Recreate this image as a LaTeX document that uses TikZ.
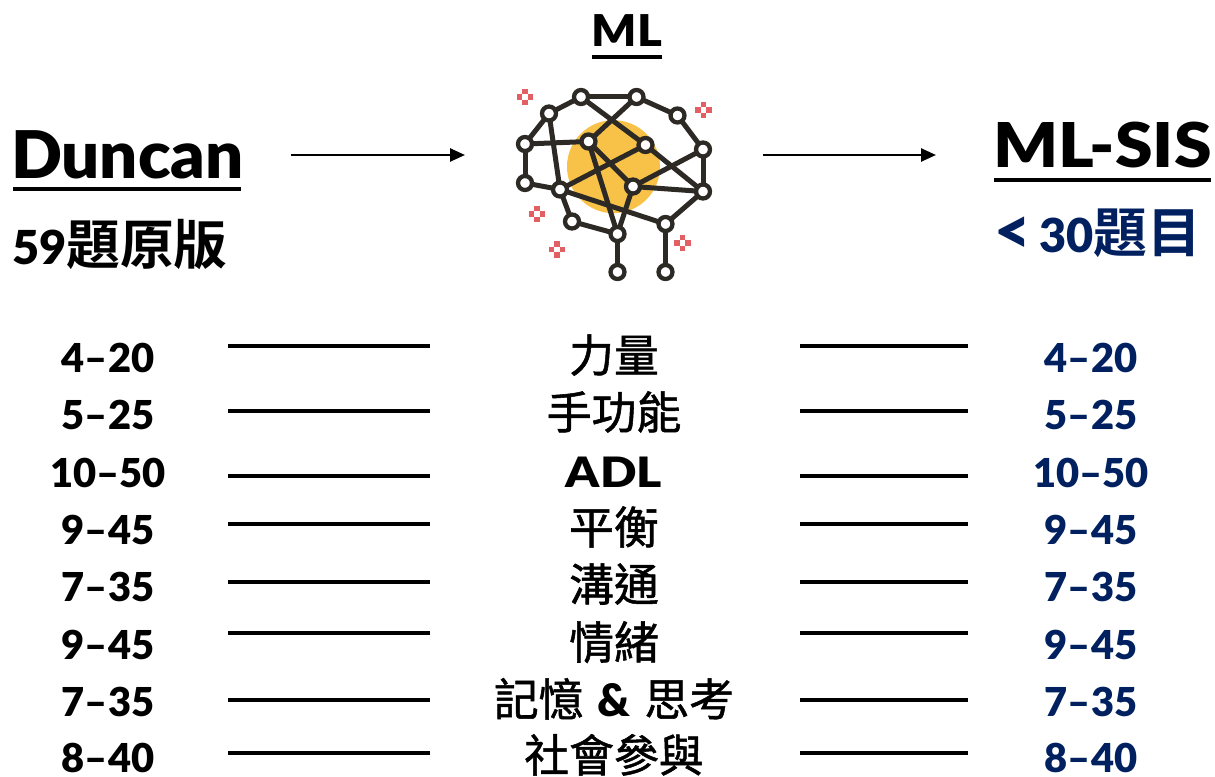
\documentclass[tikz,border=0pt]{standalone}
\usepackage{fontspec}
\setmainfont{Lato}[BoldFont={Lato Black}]
\newfontfamily\cjk{Noto Sans CJK TC}[BoldFont={Noto Sans CJK TC Bold}]
\newfontfamily\cjkm{Noto Sans CJK TC}[FakeBold=1.2]
\usetikzlibrary{arrows.meta}
\definecolor{navy}{RGB}{0,32,96}
\definecolor{ink}{RGB}{45,42,38}
\definecolor{gold}{RGB}{248,194,72}
\definecolor{spark}{RGB}{226,96,100}

\tikzset{
  sparkle/.pic={
    \fill[spark] (-2.7,-8.1) rectangle (2.7,-2.7);
    \fill[spark] (-2.7,2.7) rectangle (2.7,8.1);
    \fill[spark] (-8.1,-2.7) rectangle (-2.7,2.7);
    \fill[spark] (2.7,-2.7) rectangle (8.1,2.7);
  }
}

\begin{document}
\begin{tikzpicture}[x=1bp,y=-1bp,
  every node/.style={inner sep=0pt, outer sep=0pt},
  num/.style={anchor=base, text depth=0pt, font=\fontsize{40}{40}\selectfont\bfseries},
  numr/.style={num, text=navy},
  lab/.style={anchor=base, text depth=0pt, font=\fontsize{45}{45}\selectfont\cjkm},
  rule/.style={line width=4bp},
  uline/.style={line width=3.5bp},
  flow/.style={line width=2.5bp, -{Triangle[length=15bp,width=13bp]}},
  edge/.style={draw=ink, line width=5bp, line cap=round},
  joint/.style={circle, draw=ink, fill=white, line width=4.3bp, minimum size=14bp},
]
\useasboundingbox (0,0) rectangle (1215,777);

% ---------- headings ----------
\node[anchor=base, font=\fontsize{44}{44}\selectfont\bfseries] (ml) at (627,47) {\scalebox{1.08}[1]{ML}};
\draw[uline] (592,57) -- (662,57);

\node[anchor=base west, font=\fontsize{66}{66}\selectfont\bfseries] (duncan) at (11,178) {\scalebox{1.02}[1]{Duncan}};
\draw[uline] (13,189) -- (241,189);
\node[anchor=base west] (orig) at (12,264)
  {{\fontsize{47}{47}\selectfont\bfseries 59}{\fontsize{54}{54}\selectfont\cjk\bfseries 題原版}};

\node[anchor=base west, font=\fontsize{62}{62}\selectfont\bfseries] (mlsis) at (993,167) {\scalebox{1.1}[1]{ML-SIS}};
\draw[uline] (994,180) -- (1211,180);
\node[anchor=base west, text=navy] (short) at (994,252)
  {{\fontsize{47}{47}\selectfont\bfseries \raisebox{-1bp}{\scalebox{1.35}{<}}\hspace{9bp}30}{\fontsize{54}{54}\selectfont\cjk\bfseries 題目}};

% ---------- flow arrows ----------
\coordinate (a1s) at (291,155);
\coordinate (a1e) at (465,155);
\coordinate (a2s) at (763,155);
\coordinate (a2e) at (936,155);
\draw[flow] (a1s) -- (a1e);
\draw[flow] (a2s) -- (a2e);

% ---------- network brain icon ----------
\fill[gold] (613.5,166.7) circle[radius=46.5];
\coordinate (b1) at (581,97);
\coordinate (b2) at (636.5,97);
\coordinate (b3) at (549,113.5);
\coordinate (b4) at (677.5,115.5);
\coordinate (b5) at (525,144);
\coordinate (b6) at (588.5,141.5);
\coordinate (b7) at (645.5,145);
\coordinate (b8) at (703,149.5);
\coordinate (b9) at (525,183);
\coordinate (b10) at (560,189.5);
\coordinate (b11) at (633,186.5);
\coordinate (b12) at (703,191.5);
\coordinate (b13) at (572,221.5);
\coordinate (b14) at (665.5,224);
\coordinate (b15) at (617.5,234);
\coordinate (b16) at (617.5,272);
\coordinate (b17) at (665.5,272);
\foreach \p/\q in {b1/b2, b1/b3, b2/b4, b3/b5, b4/b8, b5/b9, b5/b6, b3/b10,
                   b9/b10, b10/b13, b13/b15, b15/b16, b14/b17, b14/b12, b12/b8,
                   b1/b7, b2/b6, b6/b11, b6/b15, b7/b12, b10/b7, b11/b8,
                   b11/b12, b11/b15, b10/b14}
  \draw[edge] (\p) -- (\q);
\foreach \n in {b1,b2,b3,b4,b5,b6,b7,b8,b9,b10,b11,b12,b13,b14,b15,b16,b17}
  \node[joint] at (\n) {};
\pic at (525,97) {sparkle};
\pic at (703.5,110) {sparkle};
\pic at (537,214) {sparkle};
\pic at (557,249.5) {sparkle};
\pic at (682.5,243) {sparkle};

% ---------- score rows ----------
\node[num]  (l1) at (108,372) {4--20};
\node[lab]  (m1) at (614,372) {力量};
\node[numr] (r1) at (1091,372) {4--20};
\node[num]  (l2) at (108,429) {5--25};
\node[lab]  (m2) at (614,429) {手功能};
\node[numr] (r2) at (1091,429) {5--25};
\node[num]  (l3) at (108,487) {10--50};
\node[lab, font=\fontsize{42}{42}\selectfont\bfseries] (m3) at (614,487) {\scalebox{1.15}[1]{ADL}};
\node[numr] (r3) at (1091,487) {10--50};
\node[num]  (l4) at (108,544) {9--45};
\node[lab]  (m4) at (614,544) {平衡};
\node[numr] (r4) at (1091,544) {9--45};
\node[num]  (l5) at (108,601) {7--35};
\node[lab]  (m5) at (614,601) {溝通};
\node[numr] (r5) at (1091,601) {7--35};
\node[num]  (l6) at (108,659) {9--45};
\node[lab]  (m6) at (614,659) {情緒};
\node[numr] (r6) at (1091,659) {9--45};
\node[num]  (l7) at (108,716) {7--35};
\node[lab]  (m7) at (614,716) {記憶\hspace{14bp}{\rmfamily\bfseries\&}\hspace{14bp}思考};
\node[numr] (r7) at (1091,716) {7--35};
\node[num]  (l8) at (108,772) {8--40};
\node[lab]  (m8) at (614,772) {社會參與};
\node[numr] (r8) at (1091,772) {8--40};

\foreach \y [count=\k] in {346,411,476,524,582,633,700,753} {
  \coordinate (ls\k) at (228,\y);
  \coordinate (le\k) at (430,\y);
  \coordinate (rs\k) at (800,\y);
  \coordinate (re\k) at (968,\y);
  \draw[rule] (ls\k) -- (le\k);
  \draw[rule] (rs\k) -- (re\k);
}
\end{tikzpicture}
\end{document}
